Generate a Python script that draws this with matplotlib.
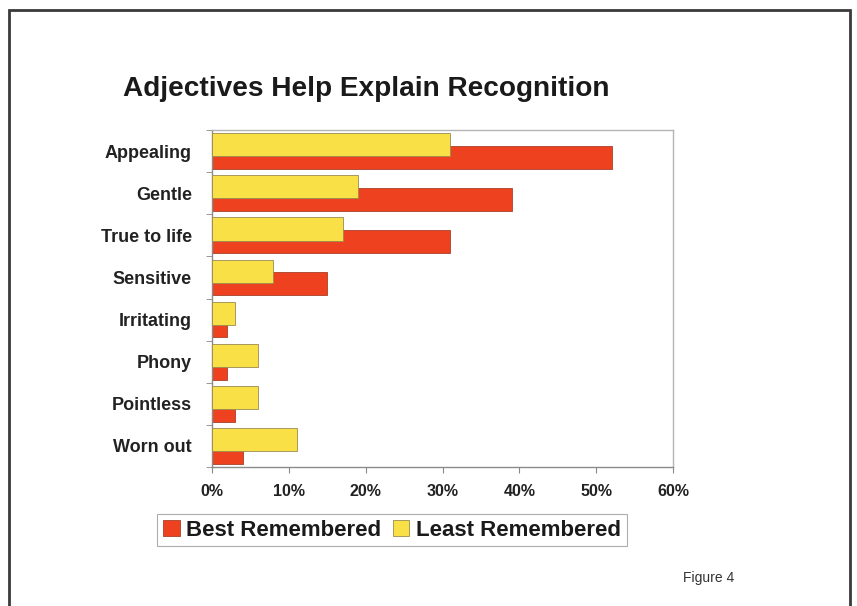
import matplotlib
matplotlib.use("Agg")
import matplotlib.pyplot as plt
from matplotlib.patches import Rectangle, Patch
import numpy as np

categories = ["Appealing", "Gentle", "True to life", "Sensitive",
              "Irritating", "Phony", "Pointless", "Worn out"]
best_remembered = [52, 39, 31, 15, 2, 2, 3, 4]
least_remembered = [31, 19, 17, 8, 3, 6, 6, 11]
x_ticks = [0, 10, 20, 30, 40, 50, 60]
x_tick_labels = ["0%", "10%", "20%", "30%", "40%", "50%", "60%"]

RED = "#EE4120"
YELLOW = "#F8E046"

plt.rcParams["font.family"] = ["Liberation Sans", "DejaVu Sans"]

W, H = 857, 606
fig = plt.figure(figsize=(W / 100, H / 100), dpi=100)
fig.patch.set_facecolor("white")

# outer page frame
fig.patches.append(Rectangle((9 / W, -0.05), (850 - 9) / W, 1.05 - 10 / H,
                             transform=fig.transFigure, fill=False,
                             edgecolor="#3a3a3a", linewidth=2.0))

ax = fig.add_axes([212 / W, (H - 467) / H, (673 - 212) / W, (467 - 130) / H])

y = np.arange(len(categories))
h = 0.55
off = 0.15
ax.barh(y + off, best_remembered, height=h, color=RED,
        edgecolor="#a8402a", linewidth=0.6, zorder=2)
ax.barh(y - off, least_remembered, height=h, color=YELLOW,
        edgecolor="#9a8a50", linewidth=0.6, zorder=3)

ax.set_xlim(0, 60)
ax.set_ylim(len(categories) - 0.5, -0.5)

ax.set_xticks(x_ticks)
ax.set_xticklabels(x_tick_labels, fontsize=11.5, fontweight="bold", color="#222222")
ax.set_yticks(y)
ax.set_yticklabels(categories, fontsize=13, fontweight="bold", color="#222222")
ax.set_yticks(np.arange(len(categories) + 1) - 0.5, minor=True)
ax.tick_params(axis="y", which="major", length=0, pad=14.4)
ax.tick_params(axis="y", which="minor", length=4, color="#888888", direction="out")
ax.tick_params(axis="x", length=4, color="#888888", direction="out", pad=8)

for side in ["left", "bottom"]:
    ax.spines[side].set_color("#8a8a8a")
    ax.spines[side].set_linewidth(1.0)
for side in ["top", "right"]:
    ax.spines[side].set_color("#b5b5b5")
    ax.spines[side].set_linewidth(1.0)

fig.text(366 / W, 1 - 89 / H, "Adjectives Help Explain Recognition",
         ha="center", va="center", fontsize=20.2, fontweight="bold", color="#1a1a1a")

handles = [Patch(facecolor=RED, edgecolor="#a8402a", linewidth=0.6),
           Patch(facecolor=YELLOW, edgecolor="#9a8a50", linewidth=0.6)]
leg = fig.legend(handles, ["Best Remembered", "Least Remembered"],
                 loc="center", bbox_to_anchor=(392 / W, 1 - 530 / H),
                 ncol=2, fancybox=False, frameon=True, edgecolor="#9a9a9a",
                 prop={"size": 16, "weight": "bold"},
                 handlelength=0.75, handleheight=0.75, handletextpad=0.3,
                 columnspacing=0.5, borderpad=0.25, borderaxespad=0)
leg.get_frame().set_linewidth(0.8)
for t in leg.get_texts():
    t.set_color("#1a1a1a")

fig.text(683 / W, 1 - 578 / H, "Figure 4", ha="left", va="center",
         fontsize=10, color="#333333")

fig.savefig("out.png", dpi=100)
